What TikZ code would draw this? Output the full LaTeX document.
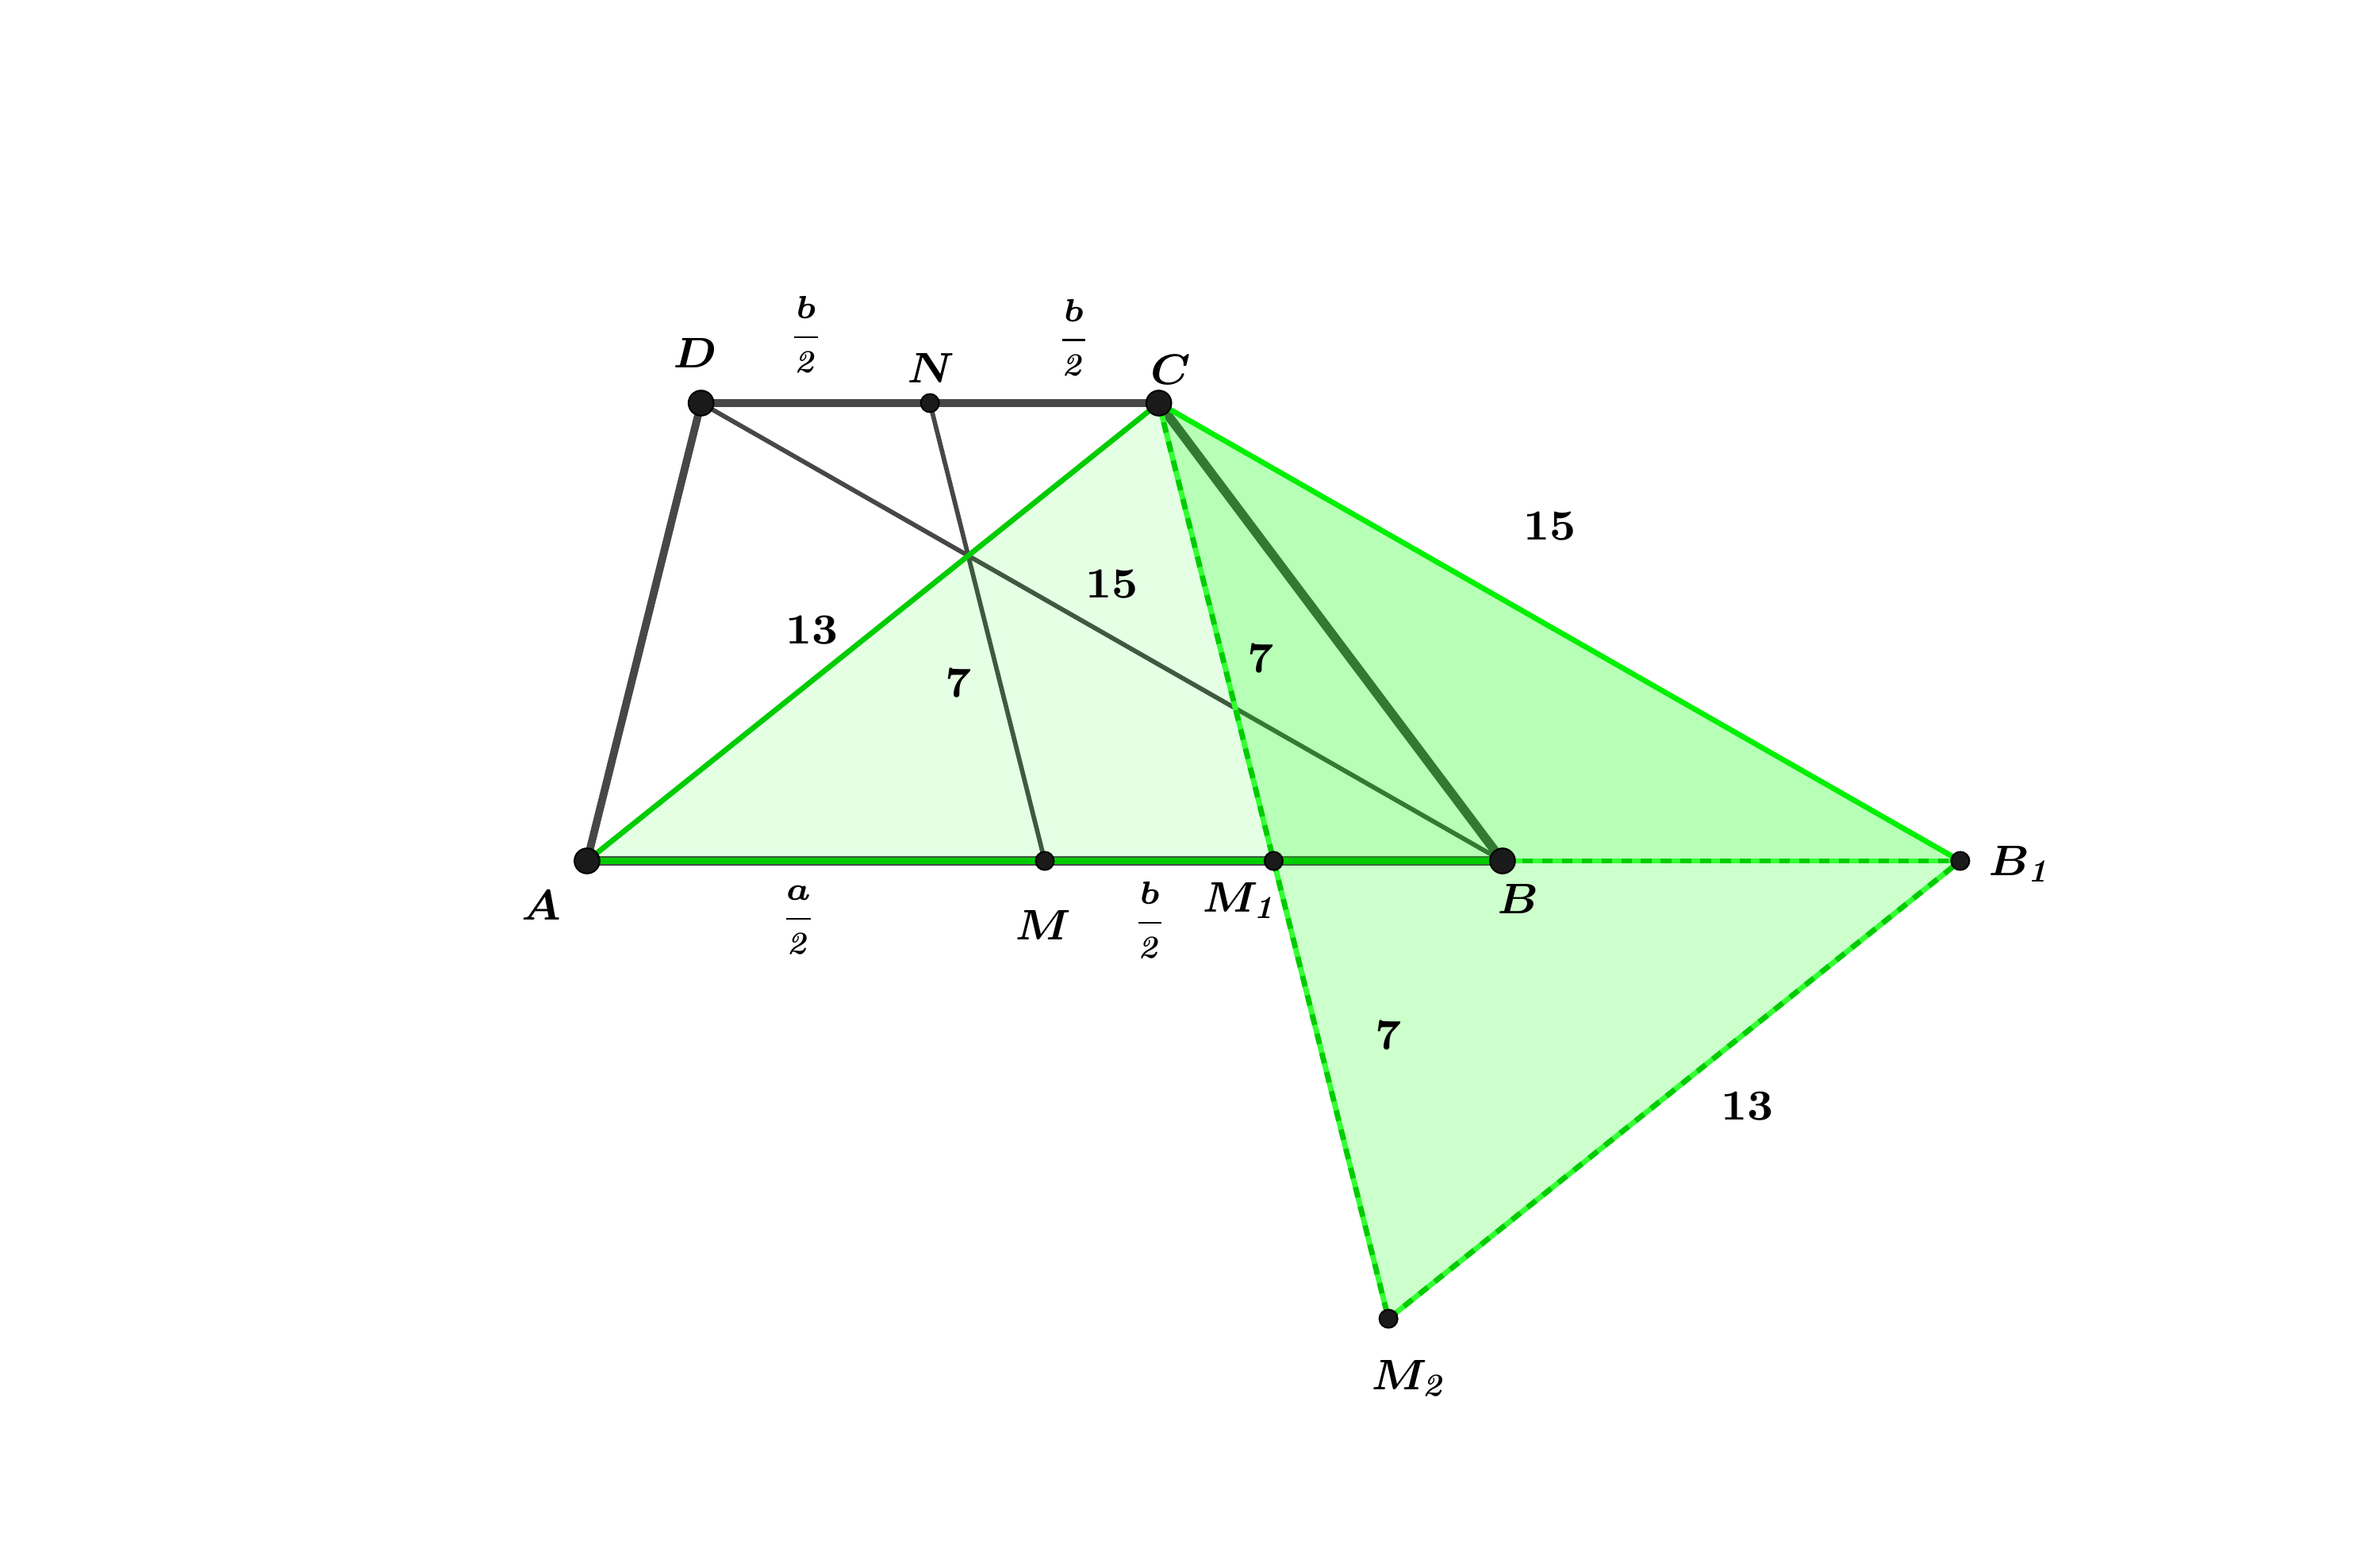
\documentclass[tikz,border=0pt]{standalone}
\usepackage{amsmath,bm}
\definecolor{gline}{HTML}{474747}
\definecolor{gA}{HTML}{00CC00}
\definecolor{gB}{HTML}{00F000}
\definecolor{gL}{HTML}{33FF33}
\definecolor{gfill}{HTML}{00FF00}
\definecolor{ptfill}{HTML}{1A1A1A}
\tikzset{
  thickgray/.style={draw=gline, line width=1.45pt, line cap=round},
  thingray/.style={draw=gline, line width=0.85pt},
  greenA/.style={draw=gA, line width=1.0pt},
  greenB/.style={draw=gB, line width=1.0pt},
  dashbase/.style={draw=gL, line width=1.0pt},
  dashtop/.style={draw=gA, line width=1.0pt, dash pattern=on 0.07cm off 0.06cm},
  bigpt/.style={circle, fill=ptfill, draw=black, line width=0.3pt, minimum size=0.165cm, inner sep=0pt},
  smallpt/.style={circle, fill=ptfill, draw=black, line width=0.3pt, minimum size=0.12cm, inner sep=0pt},
  lbl/.style={font=\fontsize{8.3}{10}\selectfont, inner sep=0pt},
  frc/.style={font=\fontsize{6.2}{7.4}\selectfont, inner sep=0pt},
}
\begin{document}
\begin{tikzpicture}[x=0.01cm, y=-0.01cm]
\useasboundingbox (0,0) rectangle (1565,1020);
% points
\coordinate (A) at (386,566);
\coordinate (B) at (988,566);
\coordinate (C) at (762,265);
\coordinate (D) at (461,265);
\coordinate (N) at (611.5,265);
\coordinate (M) at (687,566);
\coordinate (M1) at (837.5,566);
\coordinate (B1) at (1289,566);
\coordinate (M2) at (913,867);
% trapezoid lines
\draw[thickgray] (A) -- (D);
\draw[thickgray] (D) -- (C);
\draw[thickgray, line width=1.7pt] (C) -- (B);
\draw[thickgray, line width=1.65pt] (A) -- (B);
\draw[thingray] (D) -- (B);
\draw[thingray] (N) -- (M);
% fills
\fill[gfill, fill opacity=0.1] (A) -- (C) -- (B1) -- cycle;
\fill[gfill, fill opacity=0.2] (C) -- (B1) -- (M2) -- cycle;
% green lines
\draw[greenA] (A) -- (C);
\draw[greenA, line width=1.15pt] (A) -- (B);
\draw[greenB] (C) -- (B1);
\draw[dashbase] (B) -- (B1);
\draw[dashtop] (B) -- (B1);
\draw[dashbase] (C) -- (M1);
\draw[dashtop] (C) -- (M1);
\draw[dashbase] (M1) -- (M2);
\draw[dashtop] (M1) -- (M2);
\draw[dashbase] (M2) -- (B1);
\draw[dashtop] (M2) -- (B1);
% point markers
\node[bigpt] (pA) at (A) {};
\node[bigpt] (pB) at (B) {};
\node[bigpt] (pC) at (C) {};
\node[bigpt] (pD) at (D) {};
\node[smallpt] (pN) at (N) {};
\node[smallpt] (pM) at (M) {};
\node[smallpt] (pM1) at (M1) {};
\node[smallpt] (pB1) at (B1) {};
\node[smallpt] (pM2) at (M2) {};
% point labels
\node[lbl] (lD) at (457,232) {$\bm{D}$};
\node[lbl] (lN) at (612,242) {$\bm{N}$};
\node[lbl] (lC) at (770,243) {$\bm{C}$};
\node[lbl] (lA) at (356,595) {$\bm{A}$};
\node[lbl] (lM) at (686,608) {$\bm{M}$};
\node[lbl] (lM1) at (816,592) {$\bm{M}_{\bm{\mathit{1}}}$};
\node[lbl] (lB) at (998,591) {$\bm{B}$};
\node[lbl] (lB1) at (1329,568) {$\bm{B}_{\bm{\mathit{1}}}$};
\node[lbl] (lM2) at (927,906) {$\bm{M}_{\bm{\mathit{2}}}$};
% length labels
\node[lbl] (n15a) at (1019,346) {$\mathbf{15}$};
\node[lbl] (n15b) at (731,384) {$\mathbf{15}$};
\node[lbl] (n13a) at (534,414) {$\mathbf{13}$};
\node[lbl] (n7a) at (630,449) {$\mathbf{7}$};
\node[lbl] (n7b) at (829,433) {$\mathbf{7}$};
\node[lbl] (n7c) at (913,681) {$\mathbf{7}$};
\node[lbl] (n13b) at (1149,727) {$\mathbf{13}$};
% fractions
\node[frc] (f1) at (530,220) {$\displaystyle\frac{\bm{b}}{\bm{\mathit{2}}}$};
\node[frc] (f2) at (706,222) {$\displaystyle\frac{\bm{b}}{\bm{\mathit{2}}}$};
\node[frc] (f3) at (525,605) {$\displaystyle\frac{\bm{a}}{\bm{\mathit{2}}}$};
\node[frc] (f4) at (756,605) {$\displaystyle\frac{\bm{b}}{\bm{\mathit{2}}}$};
\end{tikzpicture}
\end{document}
